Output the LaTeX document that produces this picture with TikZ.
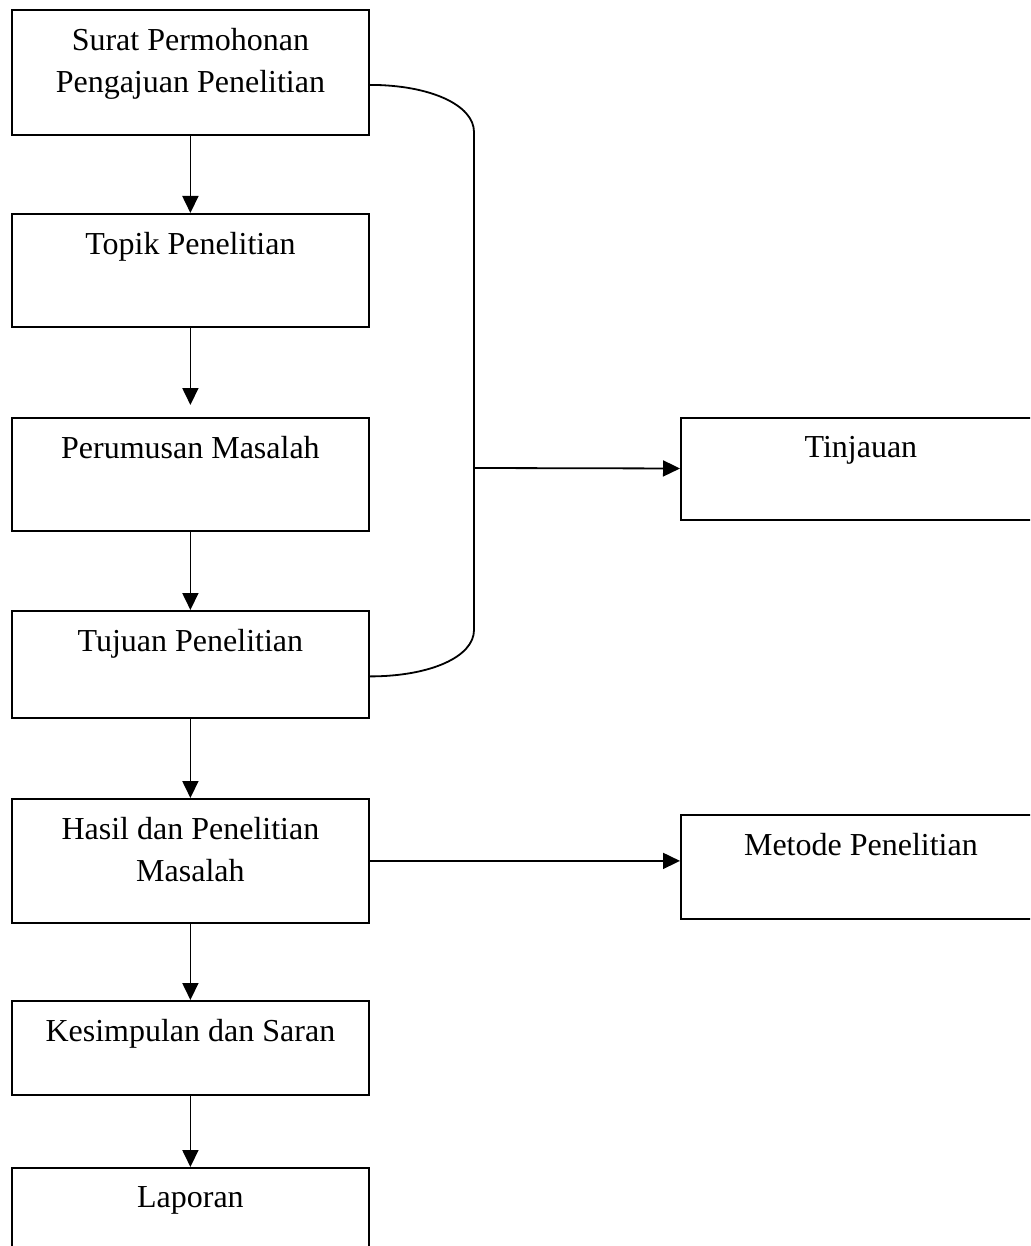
\documentclass[tikz,border=0pt]{standalone}
\usepackage{fontspec}
\setmainfont{Liberation Serif}
\usetikzlibrary{positioning,arrows.meta}
\tikzset{
  boxframe/.style={draw=black, line width=1.8pt, inner sep=0pt, anchor=north west},
  boxtext/.style={anchor=north, inner sep=0pt, align=center},
  flowarrow/.style={line width=1.8pt, -{Triangle[length=17pt,width=16pt]}},
}
% name, x, top, width, height, text
\newcommand{\flowbox}[6]{%
  \node[boxframe, minimum width=#4pt, minimum height=#5pt] (#1) at (#2,#3) {};
  \node[boxtext] (#1-text) at ([yshift=-19pt]#1.north) {#6};}

\begin{document}
\begin{tikzpicture}[x=1pt, y=-1pt, font=\fontsize{32}{42}\selectfont]
  \useasboundingbox (0,0) rectangle (1030,1246);
  \clip (0,0) rectangle (1030,1246);
  \flowbox{surat}{11}{9}{357}{125}{Surat Permohonan\\Pengajuan Penelitian}
  \flowbox{topik}{11}{213}{357}{113}{Topik Penelitian}
  \flowbox{rumusan}{11}{417}{357}{113}{Perumusan Masalah}
  \flowbox{tujuan}{11}{610}{357}{107}{Tujuan Penelitian}
  \flowbox{hasil}{11}{798}{357}{124}{Hasil dan Penelitian\\Masalah}
  \flowbox{simpulan}{11}{1000}{357}{94}{Kesimpulan dan Saran}
  \flowbox{laporan}{11}{1167}{357}{110}{Laporan}
  \flowbox{tinjauan}{680}{417}{360}{102}{Tinjauan}
  \flowbox{metode}{680}{814}{360}{104}{Metode Penelitian}
  % main column
  \draw[flowarrow] (surat) -- (topik);
  \draw[flowarrow, shorten >=12pt] (topik) -- (rumusan);
  \draw[flowarrow] (rumusan) -- (tujuan);
  \draw[flowarrow] (tujuan) -- (hasil);
  \draw[flowarrow] (hasil) -- (simpulan);
  \draw[flowarrow] (simpulan) -- (laporan);
  % bracket to the review box
  \coordinate (bracetop) at (474,132);
  \coordinate (bracebot) at (474,630);
  \coordinate (junction) at (474,468);
  \draw[line width=1.8pt] ([yshift=-12.5pt]surat.east) .. controls +(60,0) and +(0,-27) .. (bracetop)
    -- (bracebot) .. controls +(0,27) and +(60,0) .. ([yshift=-12pt]tujuan.east);
  \draw[flowarrow] (junction) -- (tinjauan);
  \draw[flowarrow] (hasil.east) -- (hasil.east -| metode.west);
\end{tikzpicture}
\end{document}
